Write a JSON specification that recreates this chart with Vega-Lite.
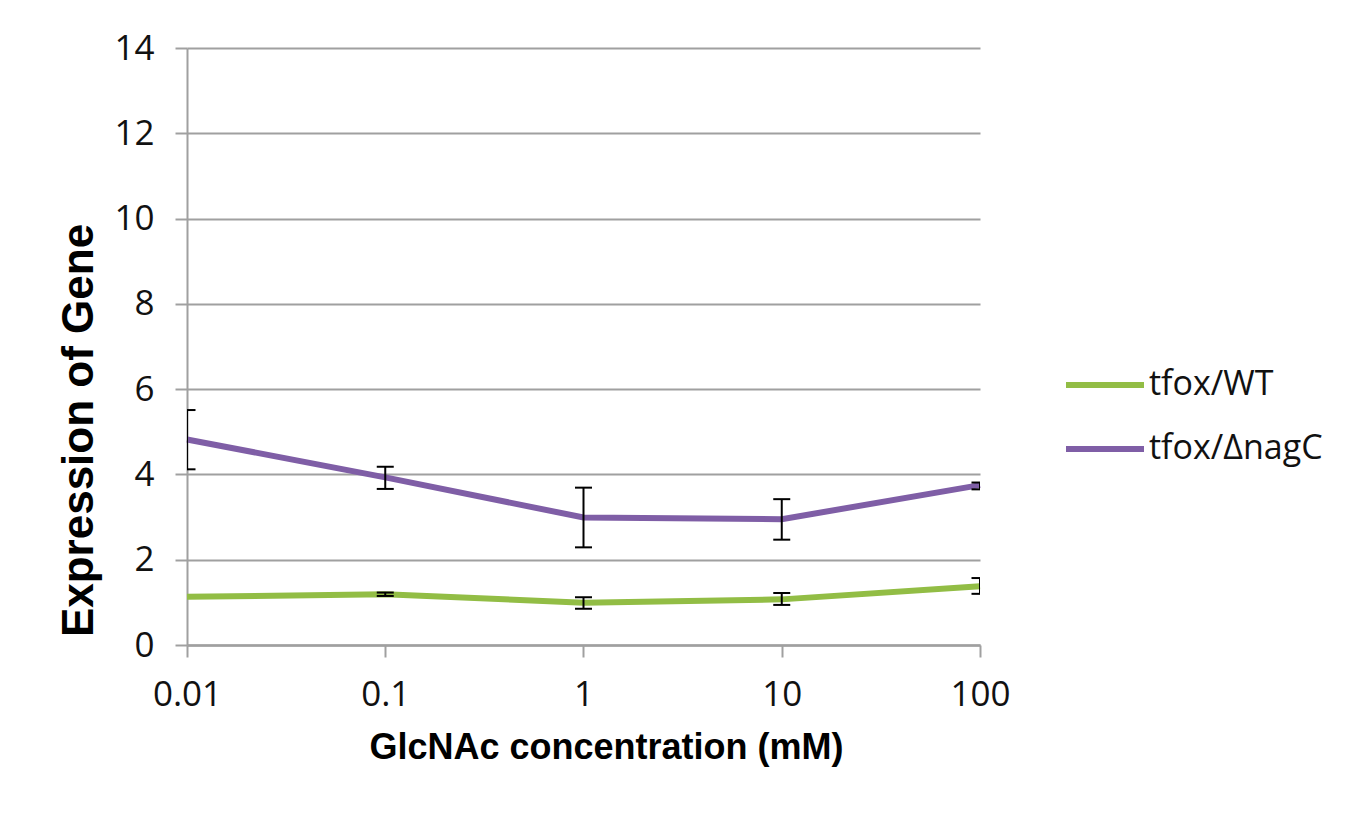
{
  "$schema": "https://vega.github.io/schema/vega-lite/v6.json",
  "autosize": "none",
  "width": 793,
  "height": 597,
  "padding": {"left": 187, "top": 48, "right": 389, "bottom": 169},
  "background": "white",
  "config": {
    "view": {"stroke": null},
    "font": "Open Sans"
  },
  "data": {
    "values": [
      {"conc": 0.01, "value": 1.13, "lo": null, "hi": null, "series": "tfox/WT"},
      {"conc": 0.1, "value": 1.19, "lo": 1.15, "hi": 1.23, "series": "tfox/WT"},
      {"conc": 1, "value": 0.99, "lo": 0.85, "hi": 1.12, "series": "tfox/WT"},
      {"conc": 10, "value": 1.07, "lo": 0.94, "hi": 1.22, "series": "tfox/WT"},
      {"conc": 100, "value": 1.38, "lo": 1.2, "hi": 1.57, "series": "tfox/WT"},
      {"conc": 0.01, "value": 4.82, "lo": 4.12, "hi": 5.51, "series": "tfox/ΔnagC"},
      {"conc": 0.1, "value": 3.93, "lo": 3.66, "hi": 4.18, "series": "tfox/ΔnagC"},
      {"conc": 1, "value": 2.99, "lo": 2.29, "hi": 3.69, "series": "tfox/ΔnagC"},
      {"conc": 10, "value": 2.95, "lo": 2.47, "hi": 3.42, "series": "tfox/ΔnagC"},
      {"conc": 100, "value": 3.75, "lo": 3.65, "hi": 3.81, "series": "tfox/ΔnagC"}
    ]
  },
  "layer": [
    {
      "mark": {"type": "line", "strokeWidth": 6, "strokeCap": "butt"},
      "encoding": {
        "x": {
          "field": "conc", "type": "quantitative",
          "scale": {"type": "log", "domain": [0.01, 100]},
          "axis": {
            "values": [0.01, 0.1, 1, 10, 100],
            "format": "~g",
            "grid": false,
            "labelFlush": false,
            "domainColor": "#A0A0A0", "domainWidth": 2.5,
            "tickColor": "#A0A0A0", "tickWidth": 2, "tickSize": 12,
            "labelFont": "Open Sans", "labelFontSize": 35, "labelColor": "#111111",
            "labelPadding": 20,
            "title": "GlcNAc  concentration  (mM)",
            "titleFont": "Liberation Sans", "titleFontWeight": "bold", "titleFontSize": 36,
            "titleColor": "#000000",
            "titleX": 419, "titleY": 113, "titleAlign": "center", "titleBaseline": "alphabetic"
          }
        },
        "y": {
          "field": "value", "type": "quantitative",
          "scale": {"domain": [0, 14], "nice": false},
          "axis": {
            "values": [0, 2, 4, 6, 8, 10, 12, 14],
            "grid": true, "gridColor": "#A0A0A0", "gridWidth": 2,
            "labelFlush": false,
            "domainColor": "#A0A0A0", "domainWidth": 2,
            "tickColor": "#A0A0A0", "tickWidth": 2, "tickSize": 12,
            "labelFont": "Open Sans", "labelFontSize": 35, "labelColor": "#111111",
            "labelPadding": 21,
            "title": "Expression of Gene",
            "titleFont": "Liberation Sans", "titleFontWeight": "bold", "titleFontSize": 44,
            "titleColor": "#000000",
            "titleX": -95, "titleY": 382, "titleAlign": "center", "titleBaseline": "alphabetic", "titleAngle": -90
          }
        },
        "color": {
          "field": "series", "type": "nominal",
          "scale": {"domain": ["tfox/WT", "tfox/ΔnagC"], "range": ["#92BD45", "#7F5EA6"]},
          "legend": {
            "title": null,
            "orient": "none",
            "legendX": 876,
            "legendY": 295,
            "padding": 0,
            "symbolType": "stroke",
            "symbolSize": 6084,
            "symbolStrokeWidth": 6,
            "labelFont": "Open Sans",
            "labelFontSize": 34,
            "labelColor": "#111111",
            "labelOffset": 2,
            "labelLimit": 400,
            "rowPadding": 5
          }
        }
      }
    },
    {
      "transform": [{"filter": "datum.lo != null"}],
      "mark": {"type": "rule", "color": "#000000", "strokeWidth": 2, "clip": true},
      "encoding": {
        "x": {"field": "conc", "type": "quantitative"},
        "y": {"field": "lo", "type": "quantitative"},
        "y2": {"field": "hi"}
      }
    },
    {
      "transform": [{"filter": "datum.lo != null"}],
      "mark": {"type": "tick", "orient": "horizontal", "color": "#000000", "thickness": 2, "size": 17, "clip": true, "opacity": 1},
      "encoding": {
        "x": {"field": "conc", "type": "quantitative"},
        "y": {"field": "lo", "type": "quantitative"}
      }
    },
    {
      "transform": [{"filter": "datum.lo != null"}],
      "mark": {"type": "tick", "orient": "horizontal", "color": "#000000", "thickness": 2, "size": 17, "clip": true, "opacity": 1},
      "encoding": {
        "x": {"field": "conc", "type": "quantitative"},
        "y": {"field": "hi", "type": "quantitative"}
      }
    }
  ]
}
